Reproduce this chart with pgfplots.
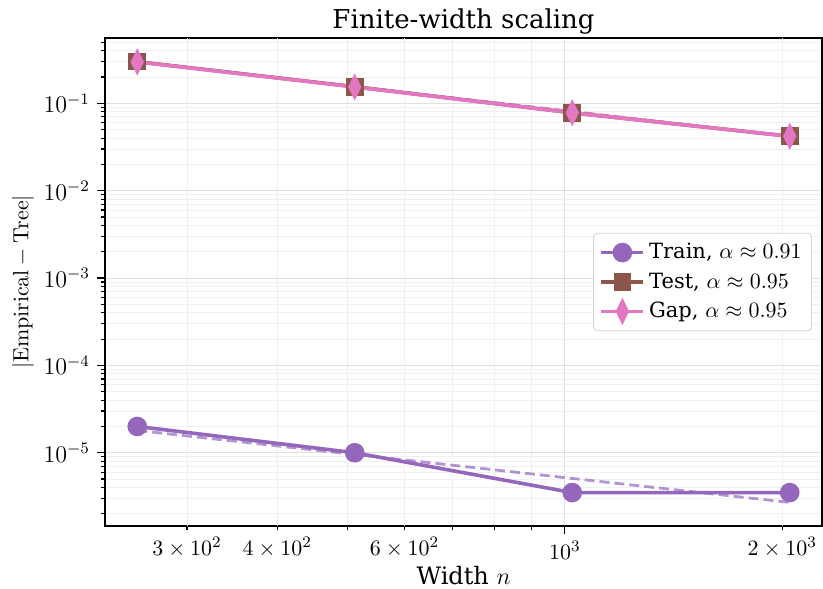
\documentclass[border=0pt]{standalone}
\usepackage[no-math]{fontspec}
\setmainfont{DejaVu Serif}
\usepackage{pgfplots}
\pgfplotsset{compat=1.18}

\definecolor{trainc}{HTML}{9467BD}
\definecolor{testc}{HTML}{8C564B}
\definecolor{gapc}{HTML}{E377C2}

\begin{document}
\begin{tikzpicture}
\begin{axis}[
    scale only axis,
    width=358.5pt, height=244pt,
    xmode=log, ymode=log,
    xmin=231, xmax=2270,
    ymin=1.45e-6, ymax=0.56,
    axis line style={line width=0.8pt},
    tick align=outside, tick pos=left,
    major tick length=4pt, minor tick length=2.2pt,
    tick style={black, line width=0.6pt},
    xtick={1000}, xticklabels={$10^{3}$},
    extra x ticks={300,400,600,2000},
    extra x tick labels={$3\times10^{2}$,$4\times10^{2}$,$6\times10^{2}$,$2\times10^{3}$},
    extra x tick style={major tick length=2.2pt, major grid style={gray!12, line width=0.4pt}},
    minor xtick={500,700,800,900},
    ytick={1e-5,1e-4,1e-3,1e-2,1e-1},
    yticklabels={$10^{-5}$,$10^{-4}$,$10^{-3}$,$10^{-2}$,$10^{-1}$},
    minor ytick={2e-6,3e-6,4e-6,5e-6,6e-6,7e-6,8e-6,9e-6,
                 2e-5,3e-5,4e-5,5e-5,6e-5,7e-5,8e-5,9e-5,
                 2e-4,3e-4,4e-4,5e-4,6e-4,7e-4,8e-4,9e-4,
                 2e-3,3e-3,4e-3,5e-3,6e-3,7e-3,8e-3,9e-3,
                 2e-2,3e-2,4e-2,5e-2,6e-2,7e-2,8e-2,9e-2,
                 2e-1,3e-1,4e-1,5e-1},
    xmajorgrids, xminorgrids, ymajorgrids, yminorgrids,
    major grid style={gray!25, line width=0.5pt},
    minor grid style={gray!12, line width=0.4pt},
    tick label style={font=\fontsize{11}{13}\selectfont},
    yticklabel style={font=\fontsize{12}{14}\selectfont},
    title={Finite-width scaling},
    every axis title shift=0pt,
    title style={font=\fontsize{13}{15}\selectfont, at={(0.5,1)}, anchor=base, yshift=5pt},
    xlabel={Width $n$},
    xlabel style={font=\fontsize{12}{14}\selectfont, at={(rel axis cs:0.5,0)}, anchor=base, yshift=-29pt},
    ylabel={$|\mathrm{Empirical} - \mathrm{Tree}|$},
    ylabel style={font=\fontsize{11}{13}\selectfont, at={(rel axis cs:0,0.5)}, anchor=center, rotate=0, yshift=41pt},
    legend style={at={(0.986,0.5)}, anchor=east, draw=gray!35, rounded corners=2pt,
        fill=white, font=\fontsize{10.5}{12}\selectfont, row sep=1.5pt,
        inner xsep=3pt, inner ysep=3pt},
    legend cell align=left,
    legend image code/.code={
        \draw[mark repeat=2, mark phase=2] plot coordinates {(0pt,0pt) (10.5pt,0pt) (21pt,0pt)};
    },
]
% Train
\addplot[trainc, line width=1.8pt, mark=*, mark size=4pt, mark options={solid}]
    coordinates {(256,2.0e-5) (512,1.0e-5) (1024,3.5e-6) (2048,3.5e-6)};
\addlegendentry{Train, $\alpha \approx 0.91$}
\addplot[forget plot, trainc, opacity=0.7, line width=1.4pt, dash pattern=on 5pt off 2.5pt]
    coordinates {(256,1.8e-5) (2048,2.7e-6)};
% Test
\addplot[testc, line width=1.8pt, mark=square*, mark size=3.5pt, mark options={solid}]
    coordinates {(256,0.300) (512,0.155) (1024,0.078) (2048,0.042)};
\addlegendentry{Test, $\alpha \approx 0.95$}
\addplot[forget plot, testc, opacity=0.7, line width=1.4pt, dash pattern=on 5pt off 2.5pt]
    coordinates {(256,0.300) (2048,0.0417)};
% Gap
\addplot[gapc, line width=1.8pt, mark=diamond*, mark size=4.8pt, mark options={solid, xscale=0.65}]
    coordinates {(256,0.298) (512,0.154) (1024,0.078) (2048,0.042)};
\addlegendentry{Gap, $\alpha \approx 0.95$}
\addplot[forget plot, gapc, opacity=0.7, line width=1.4pt, dash pattern=on 5pt off 2.5pt]
    coordinates {(256,0.298) (2048,0.0415)};
\end{axis}
\pgfresetboundingbox
\path[use as bounding box] ([shift={(-52.5pt,-31pt)}]current axis.south west)
    rectangle ([shift={(0.5pt,19pt)}]current axis.north east);
\end{tikzpicture}
\end{document}
